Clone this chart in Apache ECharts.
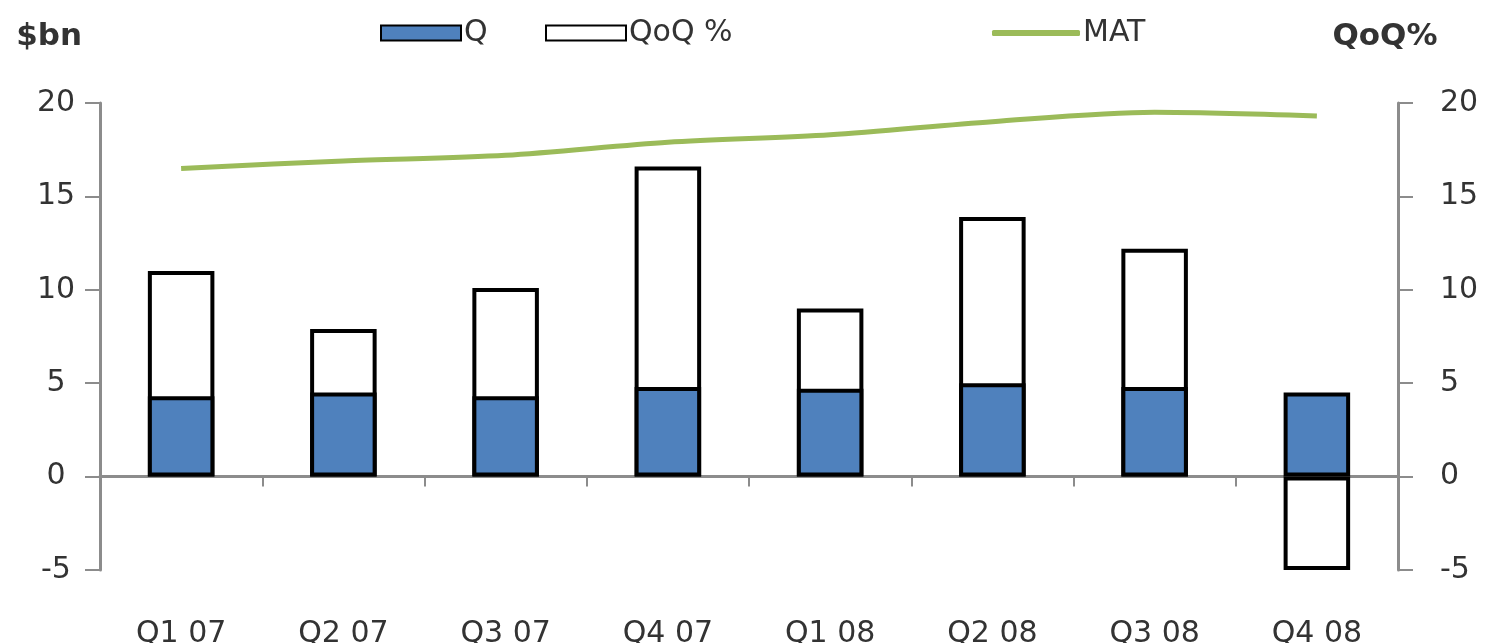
<!DOCTYPE html>
<html>
<head>
<meta charset="utf-8">
<script src="https://cdn.jsdelivr.net/npm/echarts@6/dist/echarts.min.js"></script>
<style>
html,body{margin:0;padding:0;background:#fff;}
#chart{width:1491px;height:643px;}
</style>
</head>
<body>
<div id="chart"></div>
<script>
const categories = ['Q1 07','Q2 07','Q3 07','Q4 07','Q1 08','Q2 08','Q3 08','Q4 08'];
const qValues = [4.3, 4.5, 4.3, 4.8, 4.7, 5.0, 4.8, 4.5];
const qoqValues = [11.0, 7.9, 10.1, 16.6, 9.0, 13.9, 12.2, -5.0];
const matValues = [16.5, 16.9, 17.2, 17.9, 18.3, 19.0, 19.5, 19.3];
const yTicks = { min: -5, max: 20, interval: 5 };

const FONT = 'DejaVu Sans';
const TXT = '#333333';
const AXIS = '#8c8c8c';

const chart = echarts.init(document.getElementById('chart'), null, {renderer:'canvas'});
chart.setOption({
  animation: false,
  backgroundColor: '#ffffff',
  textStyle: { fontFamily: FONT },
  legend: [
    { data: [{ name: 'Q', icon: 'rect' }], left: 375, top: 13, itemWidth: 80, itemHeight: 15, itemGap: 0,
      textStyle: { fontFamily: FONT, fontSize: 30, color: TXT, padding: [0,0,0,-2] } },
    { data: [{ name: 'QoQ %', icon: 'rect' }], left: 540, top: 13, itemWidth: 80, itemHeight: 15,
      textStyle: { fontFamily: FONT, fontSize: 30, color: TXT, padding: [0,0,0,-2] } },
    { data: [{ name: 'MAT', icon: 'roundRect' }], left: 987, top: 13, itemWidth: 88, itemHeight: 6,
      textStyle: { fontFamily: FONT, fontSize: 30, color: TXT, padding: [0,0,0,-2] } }
  ],
  grid: { left: 100, right: 93, top: 103, bottom: 73, containLabel: false, outerBoundsMode: 'none' },
  xAxis: [
    {
      type: 'category',
      data: categories,
      position: 'bottom',
      boundaryGap: true,
      axisLine: { show: false, onZero: false },
      axisTick: { show: false },
      axisLabel: { margin: 49, fontFamily: FONT, fontSize: 30, color: TXT },
      splitLine: { show: false }
    },
    {
      type: 'category',
      data: categories,
      position: 'bottom',
      boundaryGap: true,
      axisLine: { show: true, onZero: true, lineStyle: { color: AXIS, width: 3 } },
      axisTick: { show: true, length: 10, lineStyle: { color: AXIS, width: 2 } },
      axisLabel: { show: false },
      splitLine: { show: false }
    }
  ],
  yAxis: [
    {
      type: 'value', min: yTicks.min, max: yTicks.max, interval: yTicks.interval,
      name: '$bn', nameLocation: 'end', nameGap: 66,
      nameTextStyle: { fontFamily: FONT, fontSize: 31, fontWeight: 'bold', color: TXT, align: 'right', verticalAlign: 'middle', padding: [0, 18, 0, 0] },
      axisLine: { show: true, lineStyle: { color: AXIS, width: 3 } },
      axisTick: { show: true, length: 15, lineStyle: { color: AXIS, width: 2 } },
      axisLabel: { margin: 44, align: 'center', fontFamily: FONT, fontSize: 30, color: TXT },
      splitLine: { show: false }
    },
    {
      type: 'value', min: yTicks.min, max: yTicks.max, interval: yTicks.interval,
      position: 'right',
      name: 'QoQ%', nameLocation: 'end', nameGap: 66,
      nameTextStyle: { fontFamily: FONT, fontSize: 31, fontWeight: 'bold', color: TXT, align: 'center', verticalAlign: 'middle', padding: [0, 26, 0, 0] },
      axisLine: { show: true, lineStyle: { color: AXIS, width: 3 } },
      axisTick: { show: true, length: 15, lineStyle: { color: AXIS, width: 2 } },
      axisLabel: { margin: 42, align: 'left', fontFamily: FONT, fontSize: 30, color: TXT },
      splitLine: { show: false }
    }
  ],
  series: [
    {
      name: 'QoQ %', type: 'bar', xAxisIndex: 0, yAxisIndex: 1, data: qoqValues,
      barWidth: '41%', barGap: '-100%', z: 2,
      itemStyle: { color: '#ffffff', borderColor: '#000000', borderWidth: 4 }
    },
    {
      name: 'Q', type: 'bar', xAxisIndex: 0, yAxisIndex: 0, data: qValues,
      barWidth: '41%', barGap: '-100%', z: 3,
      itemStyle: { color: '#4F81BD', borderColor: '#000000', borderWidth: 4 }
    },
    {
      name: 'MAT', type: 'line', xAxisIndex: 0, yAxisIndex: 0, data: matValues,
      smooth: 0.3, symbol: 'none', z: 4,
      lineStyle: { color: '#9BBB59', width: 5 },
      itemStyle: { color: '#9BBB59' }
    }
  ]
});
</script>
</body>
</html>
